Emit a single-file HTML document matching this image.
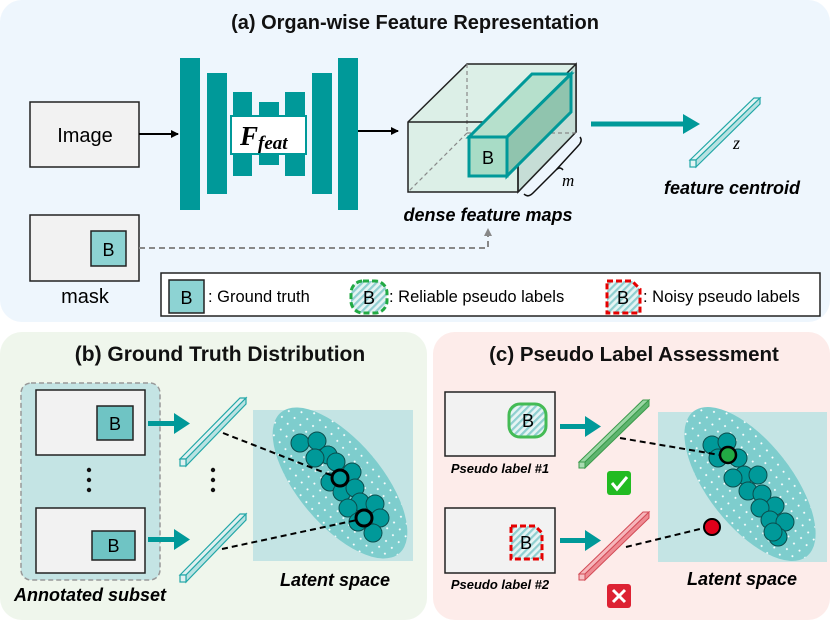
<!DOCTYPE html>
<html><head><meta charset="utf-8"><style>
body{margin:0;background:#fff}
svg{display:block;font-family:"Liberation Sans",sans-serif}
</style></head><body>
<svg width="830" height="620" viewBox="0 0 830 620" xmlns="http://www.w3.org/2000/svg">
<defs>
<pattern id="dots" width="9" height="9" patternUnits="userSpaceOnUse"><circle cx="2" cy="2" r="1" fill="#fff"/></pattern>
<pattern id="hatch" width="5" height="5" patternUnits="userSpaceOnUse" patternTransform="rotate(45)"><rect width="5" height="5" fill="#e6f4f4"/><rect width="2.2" height="5" fill="#8fcfd0"/></pattern>
<marker id="ah" markerWidth="8" markerHeight="8" refX="7" refY="4" orient="auto" markerUnits="userSpaceOnUse"><path d="M0,0 L8,4 L0,8z" fill="#000"/></marker>
<marker id="ag" markerWidth="8" markerHeight="8" refX="4" refY="4" orient="auto" markerUnits="userSpaceOnUse"><path d="M0,0 L8,4 L0,8z" fill="#888"/></marker>
<g id="circ">
<ellipse cx="0" cy="0" rx="92" ry="42" fill="#7ecdcd"/>
<ellipse cx="0" cy="0" rx="92" ry="42" fill="url(#dots)"/>
</g>
</defs>
<rect x="0" y="0" width="830" height="322" rx="22" fill="#eef6fd"/>
<rect x="0" y="332" width="427" height="288" rx="22" fill="#eff6ec"/>
<rect x="433" y="332" width="397" height="288" rx="22" fill="#fdecea"/>

<text x="415" y="29" text-anchor="middle" font-size="20" font-weight="bold" fill="#111">(a) Organ-wise Feature Representation</text>

<rect x="30" y="102" width="109" height="65" fill="#f2f2f2" stroke="#222" stroke-width="1.5"/>
<text x="85" y="142" text-anchor="middle" font-size="20">Image</text>
<rect x="30" y="215" width="109" height="66" fill="#f2f2f2" stroke="#222" stroke-width="1.5"/>
<rect x="91" y="231" width="35" height="35" fill="#8dd3d3" stroke="#222" stroke-width="1.5"/>
<text x="108.5" y="256" text-anchor="middle" font-size="18">B</text>
<text x="85" y="303" text-anchor="middle" font-size="20">mask</text>

<line x1="139" y1="134" x2="178" y2="134" stroke="#000" stroke-width="2" marker-end="url(#ah)"/>
<g fill="#009999">
<rect x="180" y="58" width="20" height="152"/><rect x="207" y="73" width="20" height="121"/>
<rect x="233" y="92" width="19" height="84"/><rect x="259" y="102" width="20" height="63"/>
<rect x="285" y="92" width="20" height="84"/><rect x="312" y="73" width="20" height="121"/>
<rect x="338" y="58" width="20" height="152"/>
</g>
<rect x="231" y="116" width="75" height="38" fill="#fff" stroke="#009999" stroke-width="2"/>
<text x="240" y="145" font-family="Liberation Serif,serif" font-size="27" font-weight="bold" font-style="italic">F</text>
<text x="258" y="149" font-family="Liberation Serif,serif" font-size="19" font-weight="bold" font-style="italic">feat</text>
<line x1="358" y1="131" x2="398" y2="131" stroke="#000" stroke-width="2" marker-end="url(#ah)"/>

<g stroke="#222" stroke-width="1.5">
<polygon points="408,122 467,64 576,64 576,132 518,192 408,192" fill="#dcefe7"/>
<polygon points="518,122 576,64 576,132 518,192" fill="#c6ddd6"/>
</g>
<g stroke="#888" stroke-width="1.2" stroke-dasharray="4,3" fill="none">
<line x1="467" y1="64" x2="467" y2="133"/><line x1="467" y1="133" x2="576" y2="133"/><line x1="467" y1="133" x2="408" y2="192"/>
</g>
<line x1="408" y1="122" x2="518" y2="122" stroke="#222" stroke-width="1.5"/>
<line x1="518" y1="122" x2="518" y2="192" stroke="#222" stroke-width="1.5"/>
<g stroke="#009999" stroke-width="3">
<polygon points="469,137 532,74 571,74 507,137" fill="#b6e0cc"/>
<polygon points="507,137 571,74 571,112 507,176" fill="#90c4ae"/>
<rect x="469" y="137" width="38" height="39" fill="#a8dcc6"/>
</g>
<text x="488" y="164" text-anchor="middle" font-size="18">B</text>
<path d="M524,194 Q528,198 533,193 L556,170 Q560,166 563,170 M556,170 L578,146 Q583,141 580,137" fill="none" stroke="#111" stroke-width="1.5"/>
<text x="562" y="186" font-family="Liberation Serif,serif" font-style="italic" font-size="17">m</text>
<text x="488" y="221" text-anchor="middle" font-size="18" font-weight="bold" font-style="italic">dense feature maps</text>
<polyline points="139,248 488,248 488,232" fill="none" stroke="#888" stroke-width="2" stroke-dasharray="6,4" marker-end="url(#ag)"/>

<line x1="591" y1="124" x2="685" y2="124" stroke="#009999" stroke-width="5"/>
<polygon points="683,114 700,124 683,134" fill="#009999"/>
<g stroke="#22a7a7" stroke-width="1.2">
<polygon points="690,160 754,98 760,98 696,160" fill="#e4f4f4"/>
<polygon points="696,160 760,98 760,104 696,167" fill="#b8e2e2"/>
<rect x="690" y="160" width="6" height="7" fill="#e4f4f4"/>
</g>
<text x="733" y="149" font-family="Liberation Serif,serif" font-style="italic" font-size="18">z</text>
<text x="732" y="194" text-anchor="middle" font-size="18" font-weight="bold" font-style="italic">feature centroid</text>

<rect x="161" y="273" width="659" height="43" fill="#fff" stroke="#222" stroke-width="1.5"/>
<rect x="169" y="280" width="35" height="33" fill="#8dd3d3" stroke="#222" stroke-width="1.5"/>
<text x="186.5" y="304" text-anchor="middle" font-size="18">B</text>
<text x="208" y="302" font-size="16.5">: Ground truth</text>
<rect x="351" y="281" width="36" height="32" rx="12" fill="url(#hatch)" stroke="#22aa44" stroke-width="3" stroke-dasharray="6,3"/>
<text x="369" y="304" text-anchor="middle" font-size="18">B</text>
<text x="389" y="302" font-size="16.5">: Reliable pseudo labels</text>
<path d="M607,281 L632,281 L640,289 L640,313 L607,313z" fill="url(#hatch)" stroke="#e60000" stroke-width="3" stroke-dasharray="6,3"/>
<text x="623" y="304" text-anchor="middle" font-size="18">B</text>
<text x="643" y="302" font-size="16.5">: Noisy pseudo labels</text>

<text x="220" y="361" text-anchor="middle" font-size="21" font-weight="bold" fill="#111">(b) Ground Truth Distribution</text>
<rect x="21" y="383" width="139" height="197" rx="10" fill="#c4e4e4" stroke="#999" stroke-width="1.5" stroke-dasharray="5,3"/>
<rect x="36" y="390" width="109" height="65" fill="#f2f2f2" stroke="#222" stroke-width="1.5"/>
<rect x="97" y="406" width="36" height="34" fill="#6fc4c4" stroke="#222" stroke-width="1.5"/>
<text x="115" y="430" text-anchor="middle" font-size="18">B</text>
<rect x="36" y="508" width="109" height="65" fill="#f2f2f2" stroke="#222" stroke-width="1.5"/>
<rect x="92" y="531" width="43" height="29" fill="#6fc4c4" stroke="#222" stroke-width="1.5"/>
<text x="113.5" y="552" text-anchor="middle" font-size="18">B</text>
<g fill="#111"><circle cx="89" cy="470" r="2.2"/><circle cx="89" cy="480" r="2.2"/><circle cx="89" cy="490" r="2.2"/>
<circle cx="213" cy="470" r="2.2"/><circle cx="213" cy="480" r="2.2"/><circle cx="213" cy="490" r="2.2"/></g>
<text x="14" y="601" font-size="18" font-weight="bold" font-style="italic">Annotated subset</text>
<g fill="#009999">
<rect x="148" y="421" width="28" height="5"/><polygon points="174,413 190,423.5 174,434"/>
<rect x="148" y="537" width="28" height="5"/><polygon points="174,529 190,539.5 174,550"/>
</g>
<g stroke="#22a7a7" stroke-width="1.2">
<polygon points="180,459 240,398 246,398 186,459" fill="#e0f0f0"/><polygon points="186,459 246,398 246,404 186,466" fill="#b8e2e2"/><rect x="180" y="459" width="6" height="7" fill="#e0f0f0"/>
<polygon points="180,575 240,514 246,514 186,575" fill="#e0f0f0"/><polygon points="186,575 246,514 246,520 186,582" fill="#b8e2e2"/><rect x="180" y="575" width="6" height="7" fill="#e0f0f0"/>
</g>
<rect x="253" y="410" width="160" height="151" fill="#c4e4e4"/>
<use href="#circ" transform="translate(340,483) rotate(50)"/>
<g fill="#009999" stroke="#0b4d4d" stroke-width="1">
<circle cx="300" cy="443" r="9"/><circle cx="317" cy="441" r="9"/><circle cx="328" cy="455" r="9"/><circle cx="315" cy="458" r="9"/>
<circle cx="336" cy="462" r="9"/><circle cx="352" cy="472" r="9"/><circle cx="330" cy="482" r="9"/><circle cx="342" cy="492" r="9"/>
<circle cx="355" cy="488" r="9"/><circle cx="360" cy="502" r="9"/><circle cx="348" cy="508" r="9"/><circle cx="375" cy="504" r="9"/>
<circle cx="380" cy="518" r="9"/><circle cx="373" cy="533" r="9"/><circle cx="358" cy="522" r="9"/>
</g>
<g fill="#009999" stroke="#000" stroke-width="3"><circle cx="340" cy="478" r="8"/><circle cx="364" cy="518" r="8"/></g>
<g stroke="#000" stroke-width="2" stroke-dasharray="6,4"><line x1="223" y1="433" x2="333" y2="476"/><line x1="222" y1="549" x2="357" y2="520"/></g>
<text x="335" y="586" text-anchor="middle" font-size="18" font-weight="bold" font-style="italic">Latent space</text>

<text x="634" y="361" text-anchor="middle" font-size="20.5" font-weight="bold" fill="#111">(c) Pseudo Label Assessment</text>
<rect x="445" y="392" width="110" height="64" fill="#f2f2f2" stroke="#222" stroke-width="1.5"/>
<rect x="509" y="404" width="37" height="33" rx="11" fill="url(#hatch)" stroke="#44bb55" stroke-width="3"/>
<text x="528" y="427" text-anchor="middle" font-size="18">B</text>
<text x="500" y="473" text-anchor="middle" font-size="13" font-weight="bold" font-style="italic">Pseudo label #1</text>
<rect x="445" y="508" width="110" height="65" fill="#f2f2f2" stroke="#222" stroke-width="1.5"/>
<path d="M511,526 L535,526 L542,533 L542,559 L511,559z" fill="url(#hatch)" stroke="#e60000" stroke-width="3" stroke-dasharray="6,3"/>
<text x="526" y="549" text-anchor="middle" font-size="18">B</text>
<text x="500" y="589" text-anchor="middle" font-size="13" font-weight="bold" font-style="italic">Pseudo label #2</text>
<g fill="#009999">
<rect x="560" y="424" width="27" height="5"/><polygon points="585,416 601,426.5 585,437"/>
<rect x="560" y="538" width="27" height="5"/><polygon points="585,530 601,540.5 585,551"/>
</g>
<g stroke="#3a9a4a" stroke-width="1"><polygon points="579,462 643,400 649,400 585,462" fill="#9ad6a4"/><polygon points="585,462 649,400 649,406 585,468" fill="#5fb56f"/><rect x="579" y="462" width="6" height="6" fill="#a9dcb1"/></g>
<g stroke="#d24a55" stroke-width="1"><polygon points="579,574 643,512 649,512 585,574" fill="#f6b6bb"/><polygon points="585,574 649,512 649,518 585,580" fill="#ee8a92"/><rect x="579" y="574" width="6" height="6" fill="#f6c0c4"/></g>
<rect x="607" y="471" width="24" height="24" rx="3" fill="#22bb22"/>
<path d="M612,483 L617,489 L627,477" fill="none" stroke="#fff" stroke-width="3"/>
<rect x="607" y="584" width="24" height="24" rx="3" fill="#dd2233"/>
<path d="M613,590 L625,602 M625,590 L613,602" stroke="#fff" stroke-width="3"/>
<rect x="658" y="412" width="169" height="150" fill="#c4e4e4"/>
<use href="#circ" transform="translate(750,484) rotate(52)"/>
<g fill="#009999" stroke="#0b4d4d" stroke-width="1">
<circle cx="712" cy="445" r="9"/><circle cx="727" cy="442" r="9"/><circle cx="718" cy="458" r="9"/><circle cx="738" cy="458" r="9"/>
<circle cx="744" cy="475" r="9"/><circle cx="733" cy="478" r="9"/><circle cx="758" cy="475" r="9"/><circle cx="748" cy="491" r="9"/>
<circle cx="762" cy="494" r="9"/><circle cx="775" cy="506" r="9"/><circle cx="760" cy="508" r="9"/><circle cx="770" cy="520" r="9"/>
<circle cx="785" cy="522" r="9"/><circle cx="778" cy="537" r="9"/><circle cx="773" cy="532" r="9"/>
</g>
<g stroke="#000" stroke-width="2" stroke-dasharray="6,4"><line x1="620" y1="438" x2="720" y2="455"/><line x1="626" y1="547" x2="704" y2="528"/></g>
<circle cx="728" cy="455" r="8" fill="#22aa44" stroke="#000" stroke-width="2.5"/>
<circle cx="712" cy="527" r="8" fill="#e0001a" stroke="#000" stroke-width="2"/>
<text x="742" y="585" text-anchor="middle" font-size="18" font-weight="bold" font-style="italic">Latent space</text>
</svg>
</body></html>
